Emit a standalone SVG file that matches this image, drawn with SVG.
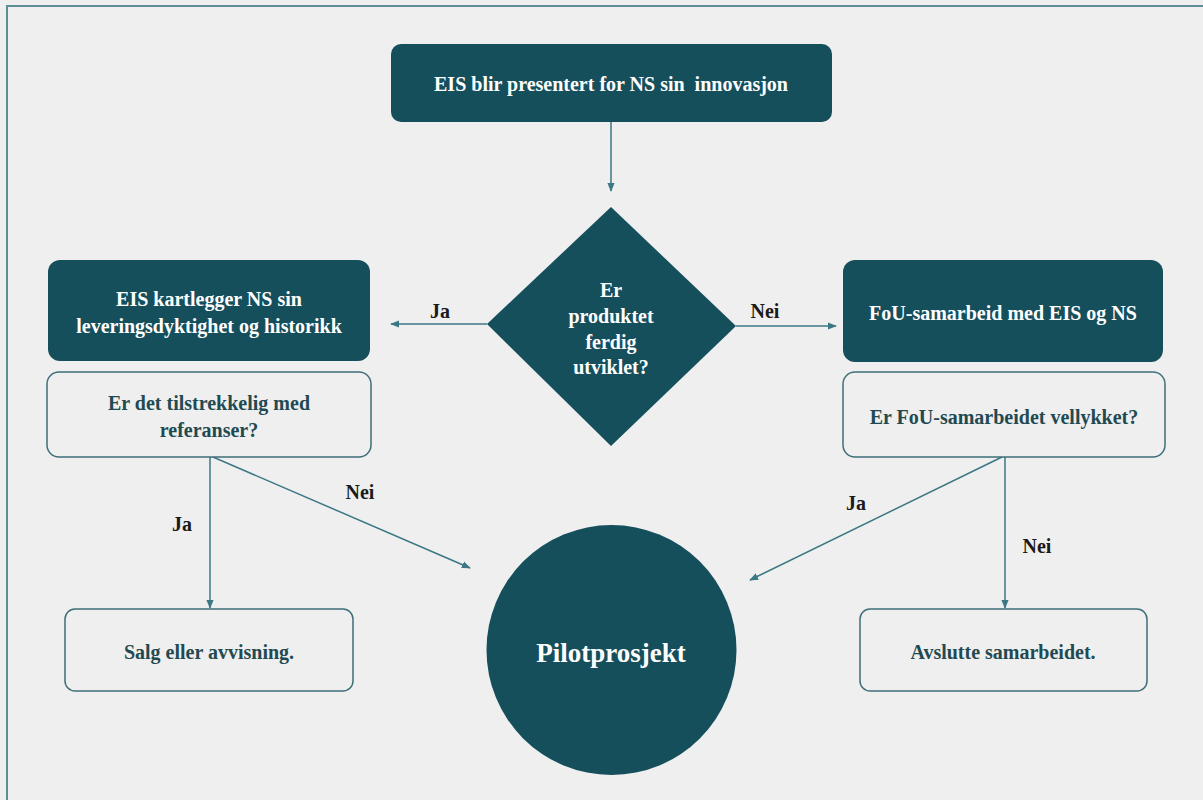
<svg xmlns="http://www.w3.org/2000/svg" width="1203" height="800" viewBox="0 0 1203 800">
  <style>
    .bg { fill: #efefef; }
    .frame { fill: none; stroke: #5f8d96; stroke-width: 2; }
    .dark { fill: #154f5c; }
    .light { fill: #efefef; stroke: #3f6f79; stroke-width: 1.5; }
    .wt { font-family: "Liberation Serif", serif; font-weight: bold; font-size: 20px; fill: #ffffff; text-anchor: middle; white-space: pre; }
    .dt { font-family: "Liberation Serif", serif; font-weight: bold; font-size: 20px; fill: #1f4a52; text-anchor: middle; }
    .lbl { font-family: "Liberation Serif", serif; font-weight: bold; font-size: 20px; fill: #1a1a1a; text-anchor: middle; }
    .big { font-family: "Liberation Serif", serif; font-weight: bold; font-size: 27px; fill: #ffffff; text-anchor: middle; }
    .conn { stroke: #3b7784; stroke-width: 1.5; fill: none; marker-end: url(#arrow); }
  </style>
  <defs>
    <marker id="arrow" viewBox="0 0 10 10" refX="9" refY="5" markerWidth="6" markerHeight="6" orient="auto-start-reverse">
      <path d="M0,1 L10,5 L0,9 Z" fill="#3b7784"/>
    </marker>
  </defs>

  <rect class="bg" x="0" y="0" width="1203" height="800"/>
  <rect class="frame" x="7" y="6" width="1210" height="810"/>

  <!-- connectors -->
  <g id="connectors">
    <line class="conn" x1="611" y1="122" x2="611" y2="191"/>
    <line class="conn" x1="487" y1="324" x2="391" y2="324"/>
    <line class="conn" x1="736" y1="326" x2="836" y2="326"/>
    <line class="conn" x1="210" y1="457" x2="210" y2="608"/>
    <line class="conn" x1="213" y1="457" x2="470" y2="568"/>
    <line class="conn" x1="1005" y1="457" x2="1005" y2="608"/>
    <line class="conn" x1="1002" y1="457" x2="750" y2="580"/>
    <text class="lbl" x="440" y="318">Ja</text>
    <text class="lbl" x="765" y="318">Nei</text>
    <text class="lbl" x="182" y="531">Ja</text>
    <text class="lbl" x="360" y="499">Nei</text>
    <text class="lbl" x="856" y="510">Ja</text>
    <text class="lbl" x="1037" y="553">Nei</text>
  </g>

  <g id="start">
    <rect class="dark" x="391" y="44" width="441" height="78" rx="10"/>
    <text class="wt" x="611" y="91">EIS blir presentert for NS sin  innovasjon</text>
  </g>

  <g id="decision">
    <polygon class="dark" points="611,207 736,326 611,446 487,324"/>
    <text class="wt" x="611" y="297">Er</text>
    <text class="wt" x="611" y="323">produktet</text>
    <text class="wt" x="611" y="349">ferdig</text>
    <text class="wt" x="611" y="374">utviklet?</text>
  </g>

  <g id="mapping">
    <rect class="dark" x="48" y="260" width="322" height="101" rx="12"/>
    <text class="wt" x="209" y="306">EIS kartlegger NS sin</text>
    <text class="wt" x="209" y="333">leveringsdyktighet og historikk</text>
  </g>

  <g id="references">
    <rect class="light" x="47" y="372" width="324" height="85" rx="12"/>
    <text class="dt" x="209" y="410">Er det tilstrekkelig med</text>
    <text class="dt" x="209" y="437">referanser?</text>
  </g>

  <g id="rnd">
    <rect class="dark" x="843" y="260" width="320" height="102" rx="12"/>
    <text class="wt" x="1003" y="320">FoU-samarbeid med EIS og NS</text>
  </g>

  <g id="rnd-success">
    <rect class="light" x="843" y="372" width="322" height="85" rx="12"/>
    <text class="dt" x="1004" y="424">Er FoU-samarbeidet vellykket?</text>
  </g>

  <g id="sale">
    <rect class="light" x="65" y="609" width="288" height="82" rx="10"/>
    <text class="dt" x="209" y="659">Salg eller avvisning.</text>
  </g>

  <g id="pilot">
    <circle class="dark" cx="611.5" cy="650" r="125"/>
    <text class="big" x="611" y="662">Pilotprosjekt</text>
  </g>

  <g id="end">
    <rect class="light" x="860" y="609" width="287" height="82" rx="10"/>
    <text class="dt" x="1003" y="659">Avslutte samarbeidet.</text>
  </g>
</svg>
